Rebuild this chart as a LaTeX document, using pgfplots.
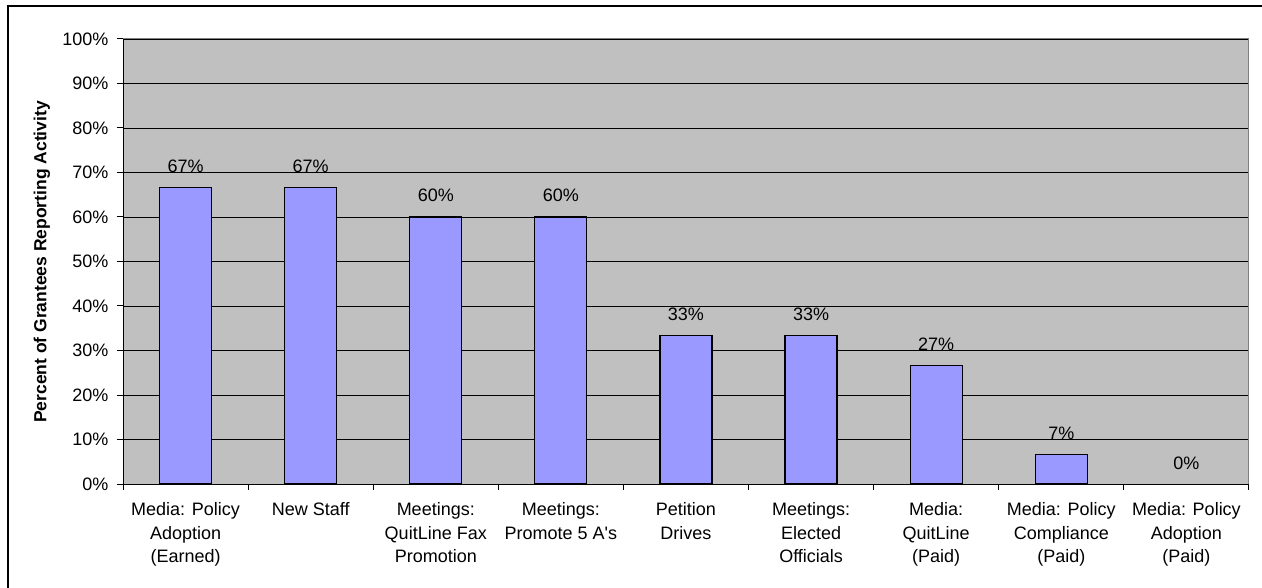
\documentclass[border=0pt]{standalone}
\usepackage{pgfplots}
\pgfplotsset{compat=1.18}
\usepackage{fontspec}
\setmainfont{Liberation Sans}
\definecolor{barfill}{HTML}{9999FF}
\definecolor{plotbg}{HTML}{C0C0C0}
\definecolor{frameline}{HTML}{808080}

\begin{document}
\begin{tikzpicture}[x=1pt,y=1pt]
\path[use as bounding box] (0,0) rectangle (1262,587);
% chart frame
\draw[line width=1.5pt] (8,-5) -- (8,581) -- (1270,581);
\begin{axis}[
  at={(123pt,103pt)}, anchor=south west,
  width=1126pt, height=445pt, scale only axis,
  axis background/.style={fill=plotbg},
  axis x line*=bottom, axis y line*=left,
  axis line style={line width=1pt, black},
  xmin=-0.5, xmax=8.5, ymin=0, ymax=100,
  ytick={0,10,...,100},
  yticklabel={\pgfmathprintnumber{\tick}\%},
  /pgf/number format/assume math mode=true,
  ymajorgrids,
  grid style={black, line width=0.8pt},
  tick align=outside,
  major tick length=6pt, minor tick length=6pt,
  major x tick style={draw=none},
  minor x tick style={black, line width=1pt},
  y tick style={black, line width=1pt},
  xtick={0,...,8},
  minor xtick={-0.5,0.5,...,8.5},
  xticklabels={
    {Media: Policy\\Adoption\\(Earned)},
    {New Staff},
    {Meetings:\\QuitLine Fax\\Promotion},
    {Meetings:\\Promote 5 A\textquotesingle s},
    {Petition\\Drives},
    {Meetings:\\Elected\\Officials},
    {Media:\\QuitLine\\(Paid)},
    {Media: Policy\\Compliance\\(Paid)},
    {Media: Policy\\Adoption\\(Paid)}},
  xticklabel style={align=center, font=\fontsize{18}{23.5}\selectfont, yshift=-9pt},
  yticklabel style={font=\fontsize{18}{21}\selectfont, xshift=-5pt},
  ybar, bar width=52pt,
  nodes near coords={\pgfmathprintnumber[fixed,precision=0]{\pgfplotspointmeta}\%},
  every node near coord/.append style={anchor=base, yshift=15pt, font=\fontsize{18}{21}\selectfont},
]
\addplot[fill=barfill, draw=black, line width=1.2pt, bar shift=0pt] coordinates {
  (0,66.67) (1,66.67) (2,60) (3,60) (4,33.33) (5,33.33) (6,26.67) (7,6.67)
};
% the zero-height bar only carries its label
\addplot[fill=none, draw=none, bar shift=0pt] coordinates {(8,0)};
\draw[frameline, line width=1pt] (rel axis cs:0,1) -- (rel axis cs:1,1) -- (rel axis cs:1,0);
\end{axis}
\node[rotate=90, font=\bfseries\fontsize{17.5}{21}\selectfont] at (42,325) {Percent of Grantees Reporting Activity};
\end{tikzpicture}
\end{document}
